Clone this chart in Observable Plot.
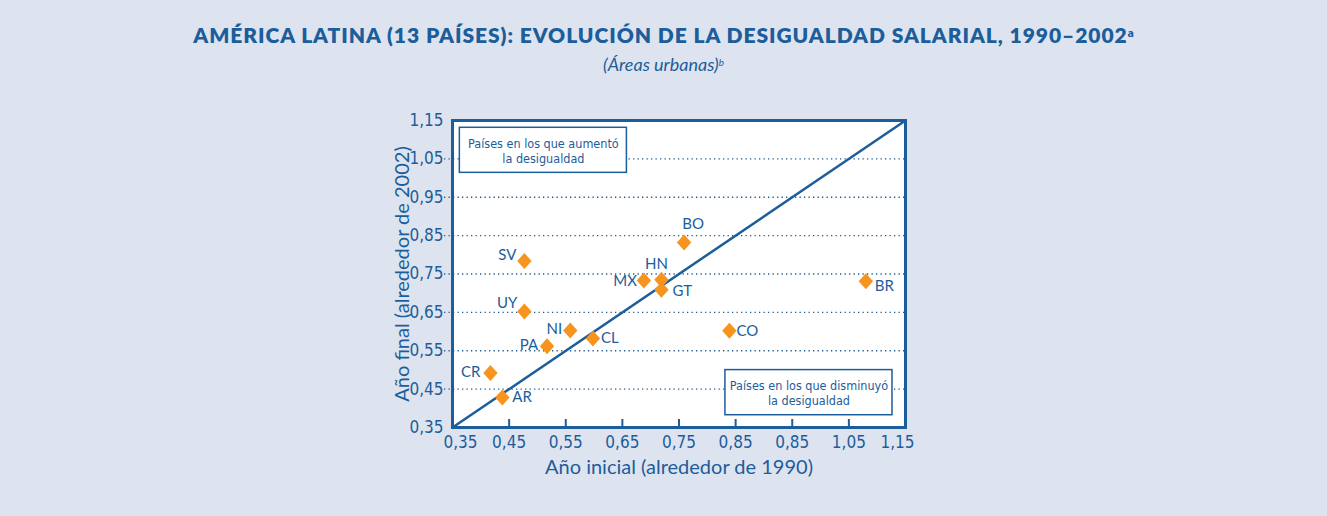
<!DOCTYPE html>
<html>
<head>
<meta charset="utf-8">
<script src="https://cdn.jsdelivr.net/npm/d3@7"></script>
<script src="https://cdn.jsdelivr.net/npm/@observablehq/plot@0.6"></script>
<style>
  html, body { margin: 0; padding: 0; }
  body { width: 1327px; height: 516px; background: #dee4ef; overflow: hidden; font-family: Lato, "Open Sans", sans-serif; color: #1c5d9b; }
  #header { height: 100px; position: relative; }
  #title { position: absolute; top: 22px; left: 0; width: 1327px; text-align: center; font-weight: 800; font-size: 21px; letter-spacing: 0.95px; line-height: 26px; }
  #subtitle { position: absolute; top: 52px; left: 0; width: 1327px; text-align: center; font-style: italic; font-size: 18px; line-height: 24px; }
  sup { font-size: 55%; vertical-align: 0.55em; line-height: 0; letter-spacing: 0; }
  #chart svg { display: block; }
</style>
</head>
<body>
<div id="header">
  <div id="title">AMÉRICA LATINA (13 PAÍSES): EVOLUCIÓN DE LA DESIGUALDAD SALARIAL, 1990–2002<sup>a</sup></div>
  <div id="subtitle">(Áreas urbanas)<sup>b</sup></div>
</div>
<div id="chart"></div>
<script>
// ---- data ----
const countries = ["SV", "UY", "NI", "CL", "PA", "CR", "AR", "MX", "HN", "GT", "BO", "CO", "BR"];
const initialYear = [0.477, 0.477, 0.558, 0.598, 0.517, 0.417, 0.438, 0.688, 0.719, 0.719, 0.759, 0.839, 1.080];
const finalYear  = [0.784, 0.652, 0.603, 0.582, 0.562, 0.492, 0.428, 0.733, 0.735, 0.709, 0.832, 0.602, 0.731];

const tickValues = [0.35, 0.45, 0.55, 0.65, 0.75, 0.85, 0.95, 1.05, 1.15];
const xTickLabels = ["0,35", "0,45", "0,55", "0,65", "0,75", "0,85", "0,85", "1,05", "1,15"];
const yTickLabels = ["0,35", "0,45", "0,55", "0,65", "0,75", "0,85", "0,95", "1,05", "1,15"];

const boxTexts = ["Países en los que aumentó\nla desigualdad", "Países en los que disminuyó\nla desigualdad"];
const boxX1 = [0.363, 0.832];
const boxX2 = [0.658, 1.127];
const boxY1 = [1.0136, 0.382];
const boxY2 = [1.131, 0.4996];

const xTitle = "Año inicial (alrededor de 1990)";
const yTitle = "Año final (alrededor de 2002)";

// ---- label placement (style, kept apart from data) ----
const labelPlacement = {
  SV: {a: "end", dx: -8, dy: -6}, UY: {a: "end", dx: -7, dy: -8}, NI: {a: "end", dx: -8, dy: -1},
  CL: {a: "start", dx: 8, dy: 0}, PA: {a: "end", dx: -9, dy: -1}, CR: {a: "end", dx: -10, dy: -1},
  AR: {a: "start", dx: 10, dy: 0}, MX: {a: "end", dx: -7, dy: 1}, HN: {a: "middle", dx: -5, dy: -16},
  GT: {a: "start", dx: 11, dy: 1}, BO: {a: "middle", dx: 9, dy: -18}, CO: {a: "start", dx: 7, dy: 0},
  BR: {a: "start", dx: 9, dy: 5}
};

const points = countries.map((c, i) => ({country: c, x: initialYear[i], y: finalYear[i]}));
const boxes = boxTexts.map((t, i) => ({text: t, x1: boxX1[i], x2: boxX2[i], y1: boxY1[i], y2: boxY2[i]}));
const xFmt = new Map(tickValues.map((v, i) => [v, xTickLabels[i]]));
const yFmt = new Map(tickValues.map((v, i) => [v, yTickLabels[i]]));
const diag = [{x: tickValues[0], y: tickValues[0]}, {x: tickValues[tickValues.length - 1], y: tickValues[tickValues.length - 1]}];

const BLUE = "#1c5d9b";
const ORANGE = "#f7941d";
const tickFont = "'Liberation Sans Narrow', 'DejaVu Sans Condensed', sans-serif";

const diamond = {
  draw(context, size) {
    const r = Math.sqrt(size / Math.PI);
    const w = r * 0.9;
    context.moveTo(0, -r);
    context.lineTo(w, 0);
    context.lineTo(0, r);
    context.lineTo(-w, 0);
    context.closePath();
  }
};

const labelMarks = ["start", "middle", "end"].flatMap(anchor =>
  points.filter(p => labelPlacement[p.country].a === anchor).map(p =>
    Plot.text([p], {x: "x", y: "y", text: "country", textAnchor: anchor,
      dx: labelPlacement[p.country].dx, dy: labelPlacement[p.country].dy,
      fill: BLUE, fontSize: 15, fontFamily: "Lato, sans-serif"})
  )
);

const midTicks = tickValues.slice(1, -1);

const chart = Plot.plot({
  width: 1327,
  height: 416,
  marginLeft: 452,
  marginRight: 422,
  marginTop: 20,
  marginBottom: 89,
  style: {background: "transparent", color: BLUE, fontFamily: tickFont},
  x: {domain: [0.35, 1.15]},
  y: {domain: [0.35, 1.15]},
  marks: [
    Plot.frame({fill: "white"}),
    Plot.ruleY(tickValues.slice(1, -1), {stroke: BLUE, strokeWidth: 1.3, strokeDasharray: "1.3,3.2", insetLeft: -8}),
    Plot.line(diag, {x: "x", y: "y", stroke: BLUE, strokeWidth: 2.5}),
    Plot.rect(boxes, {x1: "x1", x2: "x2", y1: "y1", y2: "y2", fill: "white", stroke: BLUE, strokeWidth: 1.5}),
    Plot.text(boxes, {x: d => (d.x1 + d.x2) / 2, y: d => (d.y1 + d.y2) / 2, text: "text", fill: BLUE,
      fontSize: 12.5, lineHeight: 1.25, fontFamily: tickFont}),
    Plot.dot(points, {x: "x", y: "y", symbol: diamond, r: 8, fill: ORANGE, stroke: "none"}),
    ...labelMarks,
    // inner tick marks on the bottom edge
    Plot.axisX(midTicks, {tickSize: 8, dy: -8, text: null, stroke: BLUE, strokeWidth: 2, label: null}),
    // x tick labels
    Plot.axisX(midTicks, {tickSize: 0, tickPadding: 8, tickFormat: d => xFmt.get(d), fontSize: 17, fill: BLUE, label: null}),
    Plot.axisX([tickValues[0]], {tickSize: 0, tickPadding: 8, dx: 8, tickFormat: d => xFmt.get(d), fontSize: 17, fill: BLUE, label: null}),
    Plot.axisX([tickValues[8]], {tickSize: 0, tickPadding: 8, dx: -8, tickFormat: d => xFmt.get(d), fontSize: 17, fill: BLUE, label: null}),
    // y tick labels
    Plot.axisY(tickValues, {tickSize: 0, tickPadding: 9, tickFormat: d => yFmt.get(d), fontSize: 17, fill: BLUE, label: null}),
    Plot.frame({stroke: BLUE, strokeWidth: 3}),
    Plot.text([xTitle], {text: d => d, frameAnchor: "bottom", lineAnchor: "middle", textAnchor: "middle", dy: 40, fontSize: 20, fill: BLUE, fontFamily: "Lato, sans-serif"}),
    Plot.text([yTitle], {text: d => d, frameAnchor: "left", textAnchor: "middle", lineAnchor: "middle", dx: -50, rotate: -90, fontSize: 20, fill: BLUE, fontFamily: "Lato, sans-serif"})
  ]
});
document.getElementById("chart").appendChild(chart);
</script>
</body>
</html>
